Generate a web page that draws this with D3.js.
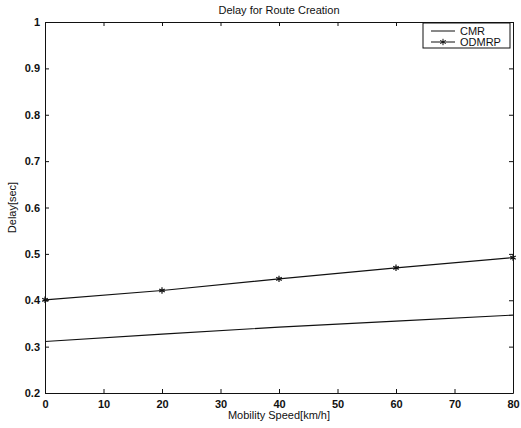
<!DOCTYPE html>
<html>
<head>
<meta charset="utf-8">
<script src="https://cdn.jsdelivr.net/npm/d3@7"></script>
<style>
  body { margin: 0; background: #fff; }
  text { font-family: "Liberation Sans", Arial, sans-serif; fill: #111; }
  .tick text { font-size: 11px; font-weight: bold; }
  .axis path, .axis line { stroke: #111; }
</style>
</head>
<body>
<div class="diagram"></div>
<script>
var speeds = [0, 20, 40, 60, 80];
var cmr = [0.311, 0.327, 0.342, 0.355, 0.368];
var odmrp = [0.401, 0.421, 0.446, 0.470, 0.492];
var xTicks = [0, 10, 20, 30, 40, 50, 60, 70, 80];
var yTicks = [0.2, 0.3, 0.4, 0.5, 0.6, 0.7, 0.8, 0.9, 1];

var W = 521, H = 428, margin = {top: 22, right: 8, bottom: 35, left: 45};
var width = W - margin.left - margin.right, height = H - margin.top - margin.bottom;

var svg = d3.select('.diagram')
  .append('svg')
  .attr('width', W)
  .attr('height', H)
  .append('g')
  .attr('transform', 'translate(' + margin.left + ',' + margin.top + ')');

var x = d3.scaleLinear().domain([0, 80]).range([0, width]),
    y = d3.scaleLinear().domain([0.2, 1]).range([height, 0]);

var fmtY = function(d) { return d === 1 ? '1' : d3.format('.1f')(d); };

// bottom / left axes with inward ticks
svg.append('g')
  .attr('class', 'axis')
  .attr('transform', 'translate(0,' + height + ')')
  .call(d3.axisBottom(x).tickValues(xTicks).tickSize(-4).tickPadding(7).tickSizeOuter(0))
  .selectAll('text').attr('dy', '0.75em');

svg.append('g')
  .attr('class', 'axis')
  .call(d3.axisLeft(y).tickValues(yTicks).tickFormat(fmtY).tickSize(-4).tickPadding(5).tickSizeOuter(0));

// top / right ticks
svg.append('g')
  .attr('class', 'axis')
  .call(d3.axisTop(x).tickValues(xTicks).tickSize(-4).tickFormat('').tickSizeOuter(0));

svg.append('g')
  .attr('class', 'axis')
  .attr('transform', 'translate(' + width + ',0)')
  .call(d3.axisRight(y).tickValues(yTicks).tickSize(-4).tickFormat('').tickSizeOuter(0));

var line = d3.line()
  .x(function(d, i) { return x(speeds[i]); })
  .y(function(d) { return y(d); });

svg.append('path')
  .attr('d', line(cmr))
  .attr('fill', 'none')
  .attr('stroke', '#111')
  .attr('stroke-width', 1.2);

svg.append('path')
  .attr('d', line(odmrp))
  .attr('fill', 'none')
  .attr('stroke', '#111')
  .attr('stroke-width', 1.2);

var star = d3.symbol().type(d3.symbolAsterisk).size(28);
svg.selectAll('.mark')
  .data(odmrp)
  .enter()
  .append('path')
  .attr('class', 'mark')
  .attr('d', star)
  .attr('transform', function(d, i) { return 'translate(' + x(speeds[i]) + ',' + y(d) + ')'; })
  .attr('fill', 'none')
  .attr('stroke', '#111')
  .attr('stroke-width', 1.2);

// title and axis labels
svg.append('text')
  .attr('x', width / 2)
  .attr('y', -8)
  .attr('text-anchor', 'middle')
  .style('font-size', '11px')
  .text('Delay for Route Creation');

svg.append('text')
  .attr('x', width / 2)
  .attr('y', height + 26)
  .attr('text-anchor', 'middle')
  .style('font-size', '11px')
  .text('Mobility Speed[km/h]');

svg.append('text')
  .attr('transform', 'rotate(-90)')
  .attr('x', -height / 2)
  .attr('y', -29)
  .attr('text-anchor', 'middle')
  .style('font-size', '11px')
  .text('Delay[sec]');

// legend
var leg = svg.append('g').attr('transform', 'translate(' + (width - 90) + ',1)');
leg.append('rect')
  .attr('width', 87).attr('height', 25)
  .attr('fill', '#fff').attr('stroke', '#111');
var names = ['CMR', 'ODMRP'];
names.forEach(function(n, i) {
  var yy = 8 + i * 11;
  leg.append('line')
    .attr('x1', 8).attr('x2', 32).attr('y1', yy).attr('y2', yy)
    .attr('stroke', '#111');
  if (i === 1) {
    leg.append('path').attr('d', star)
      .attr('transform', 'translate(20,' + yy + ')')
      .attr('fill', 'none').attr('stroke', '#111');
  }
  leg.append('text')
    .attr('x', 37).attr('y', yy + 4)
    .style('font-size', '11px')
    .text(n);
});
</script>
</body>
</html>
